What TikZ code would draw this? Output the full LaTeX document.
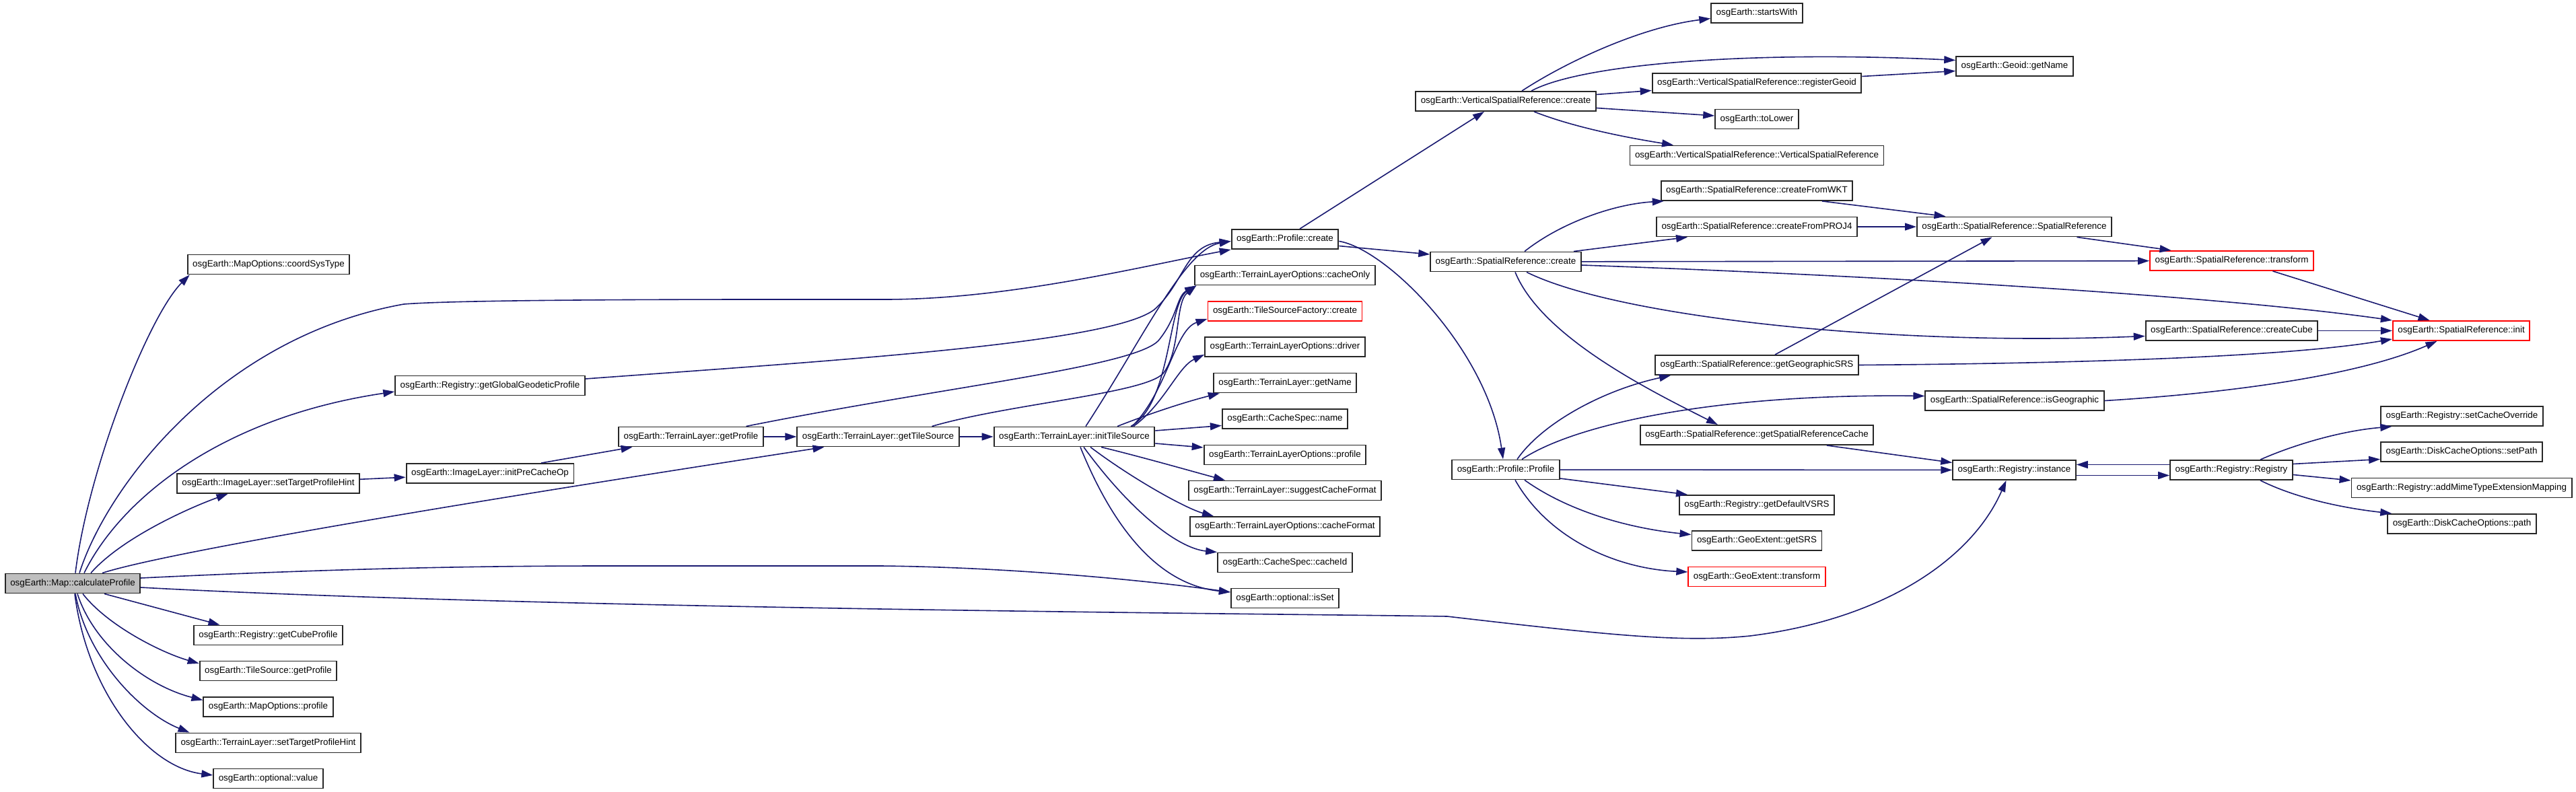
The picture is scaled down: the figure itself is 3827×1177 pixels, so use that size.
\documentclass[tikz,border=0pt]{standalone}
\usepackage{fontspec}
\setmainfont{Liberation Sans}
\usetikzlibrary{arrows.meta}
\definecolor{edgeblue}{HTML}{191970}

\begin{document}
\begin{tikzpicture}[
  x=1pt,
  y=-1pt,
  font=\fontsize{13.4}{16}\selectfont,
  fnbox/.style={draw=black!85,line width=1.9pt,fill=white,inner xsep=7.5pt,
                inner ysep=0pt,minimum height=29pt},
  rootbox/.style={fnbox,fill=black!25},
  redbox/.style={fnbox,draw=red},
  call/.style={draw=edgeblue,line width=1.6pt,-{Triangle[length=17pt,width=11pt]}}
]
\useasboundingbox (0,0) rectangle (3827,1177);

% =====================================================================
% Nodes
% =====================================================================
\node[rootbox] (cp) at (108,867) {osgEarth::Map::calculateProfile};

% --- callees of calculateProfile ---
\node[fnbox] (mapcst)  at (399,393)     {osgEarth::MapOptions::coordSysType};
\node[fnbox] (ilstph)  at (398.5,718.5) {osgEarth::ImageLayer::setTargetProfileHint};
\node[fnbox] (regcube) at (398.5,944)   {osgEarth::Registry::getCubeProfile};
\node[fnbox] (tsgp)    at (398.5,997)   {osgEarth::TileSource::getProfile};
\node[fnbox] (mapprof) at (398.5,1050.5){osgEarth::MapOptions::profile};
\node[fnbox] (tlstph)  at (398.5,1104)  {osgEarth::TerrainLayer::setTargetProfileHint};
\node[fnbox] (optval)  at (398.5,1157)  {osgEarth::optional::value};

\node[fnbox] (regggp)  at (728,573)     {osgEarth::Registry::getGlobalGeodeticProfile};
\node[fnbox] (ilipco)  at (728,703.5)   {osgEarth::ImageLayer::initPreCacheOp};

% --- terrain layer chain ---
\node[fnbox] (tlgp)    at (1026.5,649)  {osgEarth::TerrainLayer::getProfile};
\node[fnbox] (tlgts)   at (1304.5,649)  {osgEarth::TerrainLayer::getTileSource};
\node[fnbox] (tlits)   at (1596,649)    {osgEarth::TerrainLayer::initTileSource};

% --- callees of initTileSource ---
\node[fnbox]  (profcr)   at (1909,355.5) {osgEarth::Profile::create};
\node[fnbox]  (tlocache) at (1909,409)   {osgEarth::TerrainLayerOptions::cacheOnly};
\node[redbox] (tsfcr)    at (1909,462.5) {osgEarth::TileSourceFactory::create};
\node[fnbox]  (tlodrv)   at (1909,515.5) {osgEarth::TerrainLayerOptions::driver};
\node[fnbox]  (tlname)   at (1909,569)   {osgEarth::TerrainLayer::getName};
\node[fnbox]  (csname)   at (1909,622.5) {osgEarth::CacheSpec::name};
\node[fnbox]  (tloprof)  at (1909,676)   {osgEarth::TerrainLayerOptions::profile};
\node[fnbox]  (tlscf)    at (1909,729)   {osgEarth::TerrainLayer::suggestCacheFormat};
\node[fnbox]  (tlocf)    at (1909,782.5) {osgEarth::TerrainLayerOptions::cacheFormat};
\node[fnbox]  (cscid)    at (1909,836)   {osgEarth::CacheSpec::cacheId};
\node[fnbox]  (optset)   at (1909,889)   {osgEarth::optional::isSet};

% --- profile / spatial reference ---
\node[fnbox] (vsrcr)    at (2237,150.5) {osgEarth::VerticalSpatialReference::create};
\node[fnbox] (srcr)     at (2237,389)   {osgEarth::SpatialReference::create};
\node[fnbox] (profprof) at (2237,698)   {osgEarth::Profile::Profile};

\node[fnbox]  (sw)      at (2610,19.5)  {osgEarth::startsWith};
\node[fnbox]  (rg)      at (2610,123.5) {osgEarth::VerticalSpatialReference::registerGeoid};
\node[fnbox]  (tolower) at (2610,177)   {osgEarth::toLower};
\node[fnbox]  (vsrvsr)  at (2610,231)   {osgEarth::VerticalSpatialReference::VerticalSpatialReference};
\node[fnbox]  (cwkt)    at (2610,283.5) {osgEarth::SpatialReference::createFromWKT};
\node[fnbox]  (cproj)   at (2610,337)   {osgEarth::SpatialReference::createFromPROJ4};
\node[fnbox]  (ggsrs)   at (2610,542.5) {osgEarth::SpatialReference::getGeographicSRS};
\node[fnbox]  (gsrc)    at (2610,646.5) {osgEarth::SpatialReference::getSpatialReferenceCache};
\node[fnbox]  (gdv)     at (2610,750.5) {osgEarth::Registry::getDefaultVSRS};
\node[fnbox]  (ges)     at (2610,803.5) {osgEarth::GeoExtent::getSRS};
\node[redbox] (get)     at (2610,857)   {osgEarth::GeoExtent::transform};

\node[fnbox] (ggn)     at (2993,98.5)   {osgEarth::Geoid::getName};
\node[fnbox] (srsr)    at (2992.5,337)  {osgEarth::SpatialReference::SpatialReference};
\node[fnbox] (isg)     at (2993,595.5)  {osgEarth::SpatialReference::isGeographic};
\node[fnbox] (reginst) at (2992.5,698.5){osgEarth::Registry::instance};

\node[redbox] (srt)    at (3315.5,387.5){osgEarth::SpatialReference::transform};
\node[fnbox]  (cc)     at (3315.5,491.5){osgEarth::SpatialReference::createCube};
\node[fnbox]  (regreg) at (3315,698.5)  {osgEarth::Registry::Registry};

\node[redbox] (init) at (3656.5,491.5) {osgEarth::SpatialReference::init};
\node[fnbox]  (sco)  at (3657.5,618.5) {osgEarth::Registry::setCacheOverride};
\node[fnbox]  (sp)   at (3657,671.5)   {osgEarth::DiskCacheOptions::setPath};
\node[fnbox]  (am)   at (3657,725)     {osgEarth::Registry::addMimeTypeExtensionMapping};
\node[fnbox]  (dcop) at (3657.5,778.5) {osgEarth::DiskCacheOptions::path};

% =====================================================================
% Calls out of calculateProfile
% =====================================================================
\draw[call] ([xshift=4pt]cp.north) .. controls (130,700) and (220,470) .. ([xshift=4pt]mapcst.south west);
\draw[call] ([xshift=10pt]cp.north) .. controls (160,720) and (330,500) .. (600,452)
  .. controls (700,444) and (1150,445) .. (1315,445)
  .. controls (1500,445) and (1700,395) .. (profcr.south west);
\draw[call] ([xshift=17pt]cp.north) .. controls (180,740) and (330,620) .. ([yshift=-9pt]regggp.west);
\draw[call] ([xshift=27pt]cp.north) .. controls (180,800) and (280,755) .. ([xshift=-60pt]ilstph.south);
\draw[call] ([xshift=44pt]cp.north) .. controls (250,820) and (700,745) .. ([xshift=-80pt]tlgts.south);
\draw[call] ([yshift=8pt]cp.east) .. controls (500,845) and (700,841) .. (900,841) -- (1309,841)
  .. controls (1500,843) and (1700,862) .. ([yshift=9pt]optset.west);
\draw[call] ([yshift=-6pt]cp.east) .. controls (800,905) and (1900,912) .. (2150,916)
  .. controls (2400,945) and (2500,955) .. (2600,945)
  .. controls (2800,920) and (2930,830) .. ([xshift=-12pt]reginst.south);

\draw[call] ([xshift=47pt]cp.south) -- ([xshift=-72pt]regcube.north);
\draw[call] ([xshift=15pt]cp.south) .. controls (160,930) and (240,970) .. ([yshift=11pt]tsgp.west);
\draw[call] ([xshift=7pt]cp.south) .. controls (140,960) and (220,1020) .. ([yshift=10pt]mapprof.west);
\draw[call] ([xshift=4pt]cp.south) .. controls (130,980) and (210,1060) .. ([xshift=-117pt]tlstph.north);
\draw[call] ([xshift=3pt]cp.south) .. controls (130,1030) and (220,1140) .. ([yshift=5pt]optval.west);

% --- image layer / geodetic profile ---
\draw[call] (ilstph) -- (ilipco);
\draw[call] ([xshift=76pt]ilipco.north) -- ([xshift=-87pt]tlgp.south);
\draw[call] ([yshift=10pt]regggp.east) .. controls (1250,535) and (1650,510) .. (1715,460)
  .. controls (1760,420) and (1760,365) .. ([yshift=-3pt]profcr.west);

% =====================================================================
% Terrain layer chain
% =====================================================================
\draw[call] (tlgp) -- (tlgts);
\draw[call] (tlgts) -- (tlits);
\draw[call] ([xshift=82pt]tlgp.north) .. controls (1400,575) and (1690,545) .. (1722,505)
  .. controls (1750,470) and (1748,440) .. ([xshift=3pt]tlocache.south west);
\draw[call] ([xshift=80pt]tlgts.north) .. controls (1500,600) and (1700,585) .. (1728,555)
  .. controls (1755,520) and (1745,450) .. ([xshift=3pt]tlocache.south west);

% fan out of initTileSource
\draw[call] ([xshift=17pt]tlits.north) .. controls (1700,500) and (1760,370) .. ([yshift=-3pt]profcr.west);
\draw[call] ([xshift=84pt]tlits.north) .. controls (1740,600) and (1735,450) .. ([xshift=3pt]tlocache.south west);
\draw[call] ([xshift=86pt]tlits.north) .. controls (1735,580) and (1745,490) .. ([yshift=4pt]tsfcr.south west);
\draw[call] ([xshift=88pt]tlits.north) .. controls (1730,600) and (1750,545) .. ([yshift=4pt]tlodrv.south west);
\draw[call] ([xshift=64pt]tlits.north) .. controls (1720,610) and (1770,595) .. ([xshift=10pt]tlname.south west);
\draw[call] ([yshift=9pt]tlits.east) -- ([yshift=-10pt]csname.west);
\draw[call] ([yshift=-10pt]tlits.east) -- ([yshift=11pt]tloprof.west);
\draw[call] ([xshift=40pt]tlits.south) .. controls (1700,680) and (1780,703) .. ([xshift=-89pt]tlscf.north);
\draw[call] ([xshift=24pt]tlits.south) .. controls (1680,710) and (1760,755) .. ([xshift=-106pt]tlocf.north);
\draw[call] ([xshift=14pt]tlits.south) .. controls (1680,760) and (1750,815) .. (cscid.north west);
\draw[call] ([xshift=9pt]tlits.south) .. controls (1660,800) and (1730,870) .. ([yshift=9pt]optset.west);

% =====================================================================
% Profile::create and the spatial references
% =====================================================================
\draw[call] ([xshift=22pt]profcr.north) -- ([xshift=-32pt]vsrcr.south);
\draw[call] ([yshift=-10pt]profcr.east) -- ([yshift=11pt]srcr.west);
\draw[call] ([yshift=-3pt]profcr.east) .. controls (2060,370) and (2210,520) .. ([xshift=-4pt]profprof.north);

% vertical spatial reference
\draw[call] ([xshift=24pt]vsrcr.north) .. controls (2330,90) and (2440,40) .. ([yshift=-8pt]sw.west);
\draw[call] ([xshift=38pt]vsrcr.north) .. controls (2350,95) and (2600,75) .. ([yshift=9pt]ggn.west);
\draw[call] ([yshift=10pt]vsrcr.east) -- ([yshift=-11pt]rg.west);
\draw[call] ([yshift=10pt]rg.east) -- ([yshift=-7pt]ggn.west);
\draw[call] ([yshift=-10pt]vsrcr.east) -- ([yshift=5pt]tolower.west);
\draw[call] ([xshift=42pt]vsrcr.south) .. controls (2340,190) and (2420,205) .. ([xshift=-124pt]vsrvsr.north);

% spatial reference create
\draw[call] ([xshift=28pt]srcr.north) .. controls (2320,330) and (2400,303) .. ([xshift=5pt]cwkt.south west);
\draw[call] ([xshift=101pt]srcr.north) -- ([xshift=-103pt]cproj.south);
\draw[call] (srcr) -- (srt);
\draw[call] ([yshift=-5pt]srcr.east) .. controls (2800,410) and (3300,440) .. (init.north west);
\draw[call] ([xshift=31pt]srcr.south) .. controls (2400,470) and (2800,515) .. ([yshift=-8pt]cc.west);
\draw[call] ([xshift=14pt]srcr.south) .. controls (2290,500) and (2450,580) .. ([xshift=-58pt]gsrc.north);

\draw[call] ([xshift=97pt]cwkt.south) -- ([xshift=-102pt]srsr.north);
\draw[call] (cproj) -- (srsr);
\draw[call] ([xshift=27pt]ggsrs.north) -- ([xshift=-33pt]srsr.south);
\draw[call] ([xshift=93pt]srsr.south) -- ([xshift=-90pt]srt.north);

% into init
\draw[call] ([xshift=61pt]srt.south) -- ([xshift=-47pt]init.north);
\draw[call] (cc) -- (init);
\draw[call] (ggsrs.east) .. controls (3100,540) and (3400,530) .. ([yshift=3pt]init.south west);
\draw[call] (isg.east) .. controls (3300,585) and (3500,560) .. ([xshift=-36pt]init.south);

% =====================================================================
% Profile::Profile and the registry
% =====================================================================
\draw[call] ([xshift=24pt]profprof.north) .. controls (2340,630) and (2550,585) .. ([yshift=7pt]isg.west);
\draw[call] ([xshift=17pt]profprof.north) .. controls (2290,630) and (2380,580) .. ([xshift=-128pt]ggsrs.south);
\draw[call] (profprof) -- (reginst);
\draw[call] ([yshift=-13pt]profprof.east) -- ([xshift=-103pt]gdv.north);
\draw[call] ([xshift=28pt]profprof.south) .. controls (2330,760) and (2420,785) .. ([yshift=9pt]ges.west);
\draw[call] ([xshift=14pt]profprof.south) .. controls (2300,800) and (2400,845) .. ([yshift=7pt]get.west);
\draw[call] ([xshift=104pt]gsrc.south) -- ([yshift=11pt]reginst.west);

\draw[call] ([yshift=-8pt]reginst.east) -- ([yshift=-8pt]regreg.west);
\draw[call] ([yshift=8pt]regreg.west) -- ([yshift=8pt]reginst.east);
\draw[call] ([xshift=43pt]regreg.north) .. controls (3410,660) and (3480,640) .. ([xshift=17pt]sco.south west);
\draw[call] ([yshift=9pt]regreg.east) -- ([yshift=-11pt]sp.west);
\draw[call] ([yshift=-7pt]regreg.east) -- ([yshift=11pt]am.west);
\draw[call] ([xshift=43pt]regreg.south) .. controls (3410,740) and (3480,755) .. ([xshift=7pt]dcop.north west);

\end{tikzpicture}
\end{document}
